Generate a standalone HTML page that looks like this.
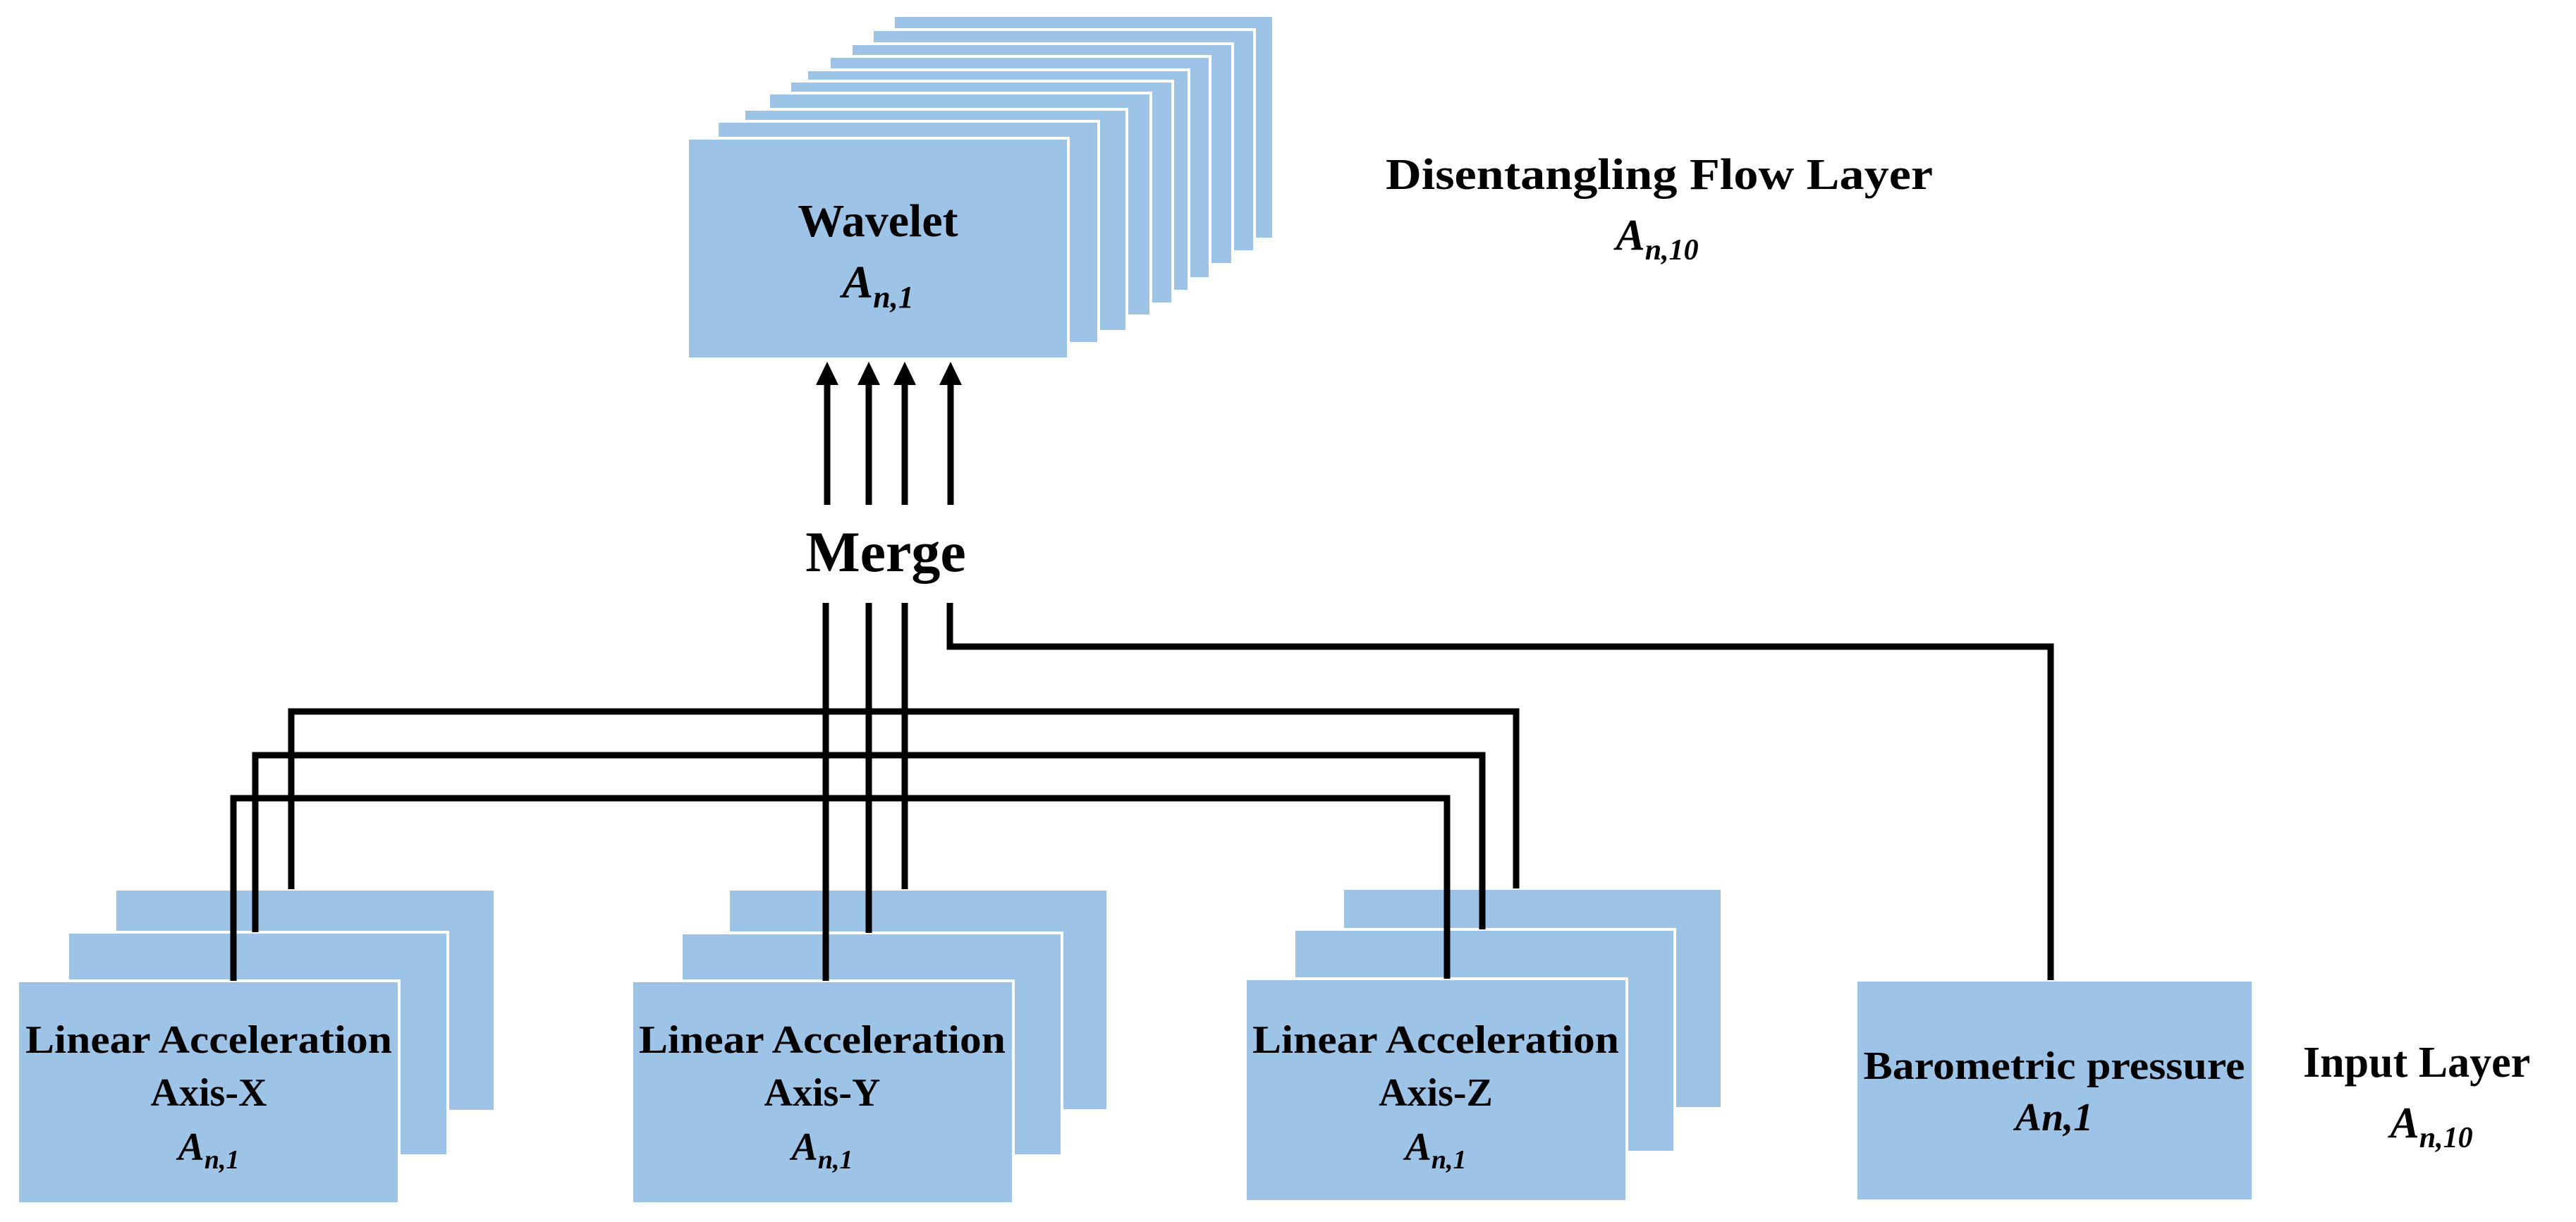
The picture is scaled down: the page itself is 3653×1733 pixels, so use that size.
<!DOCTYPE html>
<html><head><meta charset="utf-8"><style>
html,body{margin:0;padding:0;background:#fff;}
svg{display:block;}
text{font-family:"Liberation Serif",serif;font-weight:bold;fill:#000;}
</style></head><body>
<svg width="3653" height="1733" viewBox="0 0 3653 1733" xmlns="http://www.w3.org/2000/svg">
<defs>
<style>.b{fill:#9DC3E6;stroke:#fff;stroke-width:4}.l{stroke:#000;stroke-width:9;fill:none;stroke-linejoin:miter}</style>
</defs>
<rect width="3653" height="1733" fill="#fff"/>
<!-- wavelet stack back to front -->
<rect class="b" x="1267" y="22" width="539" height="317"/>
<rect class="b" x="1237" y="42" width="542" height="315"/>
<rect class="b" x="1207" y="62" width="541" height="313"/>
<rect class="b" x="1176" y="80" width="540" height="315"/>
<rect class="b" x="1144" y="99" width="542" height="314"/>
<rect class="b" x="1120" y="115" width="543" height="316"/>
<rect class="b" x="1090" y="132" width="542" height="316"/>
<rect class="b" x="1055" y="155" width="543" height="315"/>
<rect class="b" x="1017" y="172" width="541" height="315"/>
<rect class="b" x="975" y="196" width="540" height="313"/>
<text x="1245" y="335" font-size="66" text-anchor="middle">Wavelet</text>
<text x="1245" y="422" font-size="66" font-style="italic" text-anchor="middle">A<tspan font-size="44" dy="14">n,1</tspan></text>

<text x="1965" y="268" font-size="62" textLength="776" lengthAdjust="spacingAndGlyphs">Disentangling Flow Layer</text>
<text x="2350" y="354" font-size="62" font-style="italic" text-anchor="middle">A<tspan font-size="42" dy="14">n,10</tspan></text>

<!-- input boxes -->
<rect class="b" x="163" y="1261" width="539" height="315"/>
<rect class="b" x="96" y="1322" width="539" height="317"/>
<rect class="b" x="25" y="1391" width="541" height="316"/>

<rect class="b" x="1033" y="1261" width="538" height="314"/>
<rect class="b" x="966" y="1323" width="540" height="316"/>
<rect class="b" x="896" y="1391" width="541" height="316"/>

<rect class="b" x="1904" y="1260" width="538" height="312"/>
<rect class="b" x="1835" y="1318" width="540" height="316"/>
<rect class="b" x="1766" y="1388" width="541" height="316"/>

<rect class="b" x="2632" y="1390" width="563" height="313"/>

<!-- connectors -->
<polyline class="l" points="413,1261 413,1009 2150,1009 2150,1260"/>
<polyline class="l" points="362,1322 362,1071 2102,1071 2102,1318"/>
<polyline class="l" points="331,1391 331,1132 2052,1132 2052,1388"/>
<line class="l" x1="1171" y1="855" x2="1171" y2="1391"/>
<line class="l" x1="1232" y1="855" x2="1232" y2="1323"/>
<line class="l" x1="1283" y1="855" x2="1283" y2="1261"/>
<polyline class="l" points="1347,855 1347,917 2908,917 2908,1390"/>

<!-- arrows -->
<g>
<line class="l" x1="1173" y1="716" x2="1173" y2="540"/>
<line class="l" x1="1232" y1="716" x2="1232" y2="540"/>
<line class="l" x1="1283" y1="716" x2="1283" y2="540"/>
<line class="l" x1="1348" y1="716" x2="1348" y2="540"/>
<polygon points="1173,513 1157,546 1189,546"/>
<polygon points="1232,513 1216,546 1248,546"/>
<polygon points="1283,513 1267,546 1299,546"/>
<polygon points="1348,513 1332,546 1364,546"/>
</g>
<text x="1256" y="810" font-size="82" text-anchor="middle">Merge</text>

<!-- labels -->
<g font-size="56">
<text x="296" y="1493" font-size="56" text-anchor="middle" textLength="520" lengthAdjust="spacingAndGlyphs">Linear Acceleration</text>
<text x="296" y="1568" font-size="56" text-anchor="middle">Axis-X</text>
<text x="296" y="1645" font-size="56" font-style="italic" text-anchor="middle">A<tspan font-size="38" dy="12">n,1</tspan></text>

<text x="1166" y="1493" font-size="56" text-anchor="middle" textLength="520" lengthAdjust="spacingAndGlyphs">Linear Acceleration</text>
<text x="1166" y="1568" font-size="56" text-anchor="middle">Axis-Y</text>
<text x="1166" y="1645" font-size="56" font-style="italic" text-anchor="middle">A<tspan font-size="38" dy="12">n,1</tspan></text>

<text x="2036" y="1493" font-size="56" text-anchor="middle" textLength="520" lengthAdjust="spacingAndGlyphs">Linear Acceleration</text>
<text x="2036" y="1568" font-size="56" text-anchor="middle">Axis-Z</text>
<text x="2036" y="1645" font-size="56" font-style="italic" text-anchor="middle">A<tspan font-size="38" dy="12">n,1</tspan></text>

<text x="2913" y="1530" font-size="56" text-anchor="middle" textLength="541" lengthAdjust="spacingAndGlyphs">Barometric pressure</text>
<text x="2913" y="1603" font-size="56" font-style="italic" text-anchor="middle">An,1</text>

<text x="3266" y="1527" font-size="62">Input Layer</text>
<text x="3448" y="1613" font-size="62" font-style="italic" text-anchor="middle">A<tspan font-size="42" dy="14">n,10</tspan></text>
</g>
</svg>
</body></html>
